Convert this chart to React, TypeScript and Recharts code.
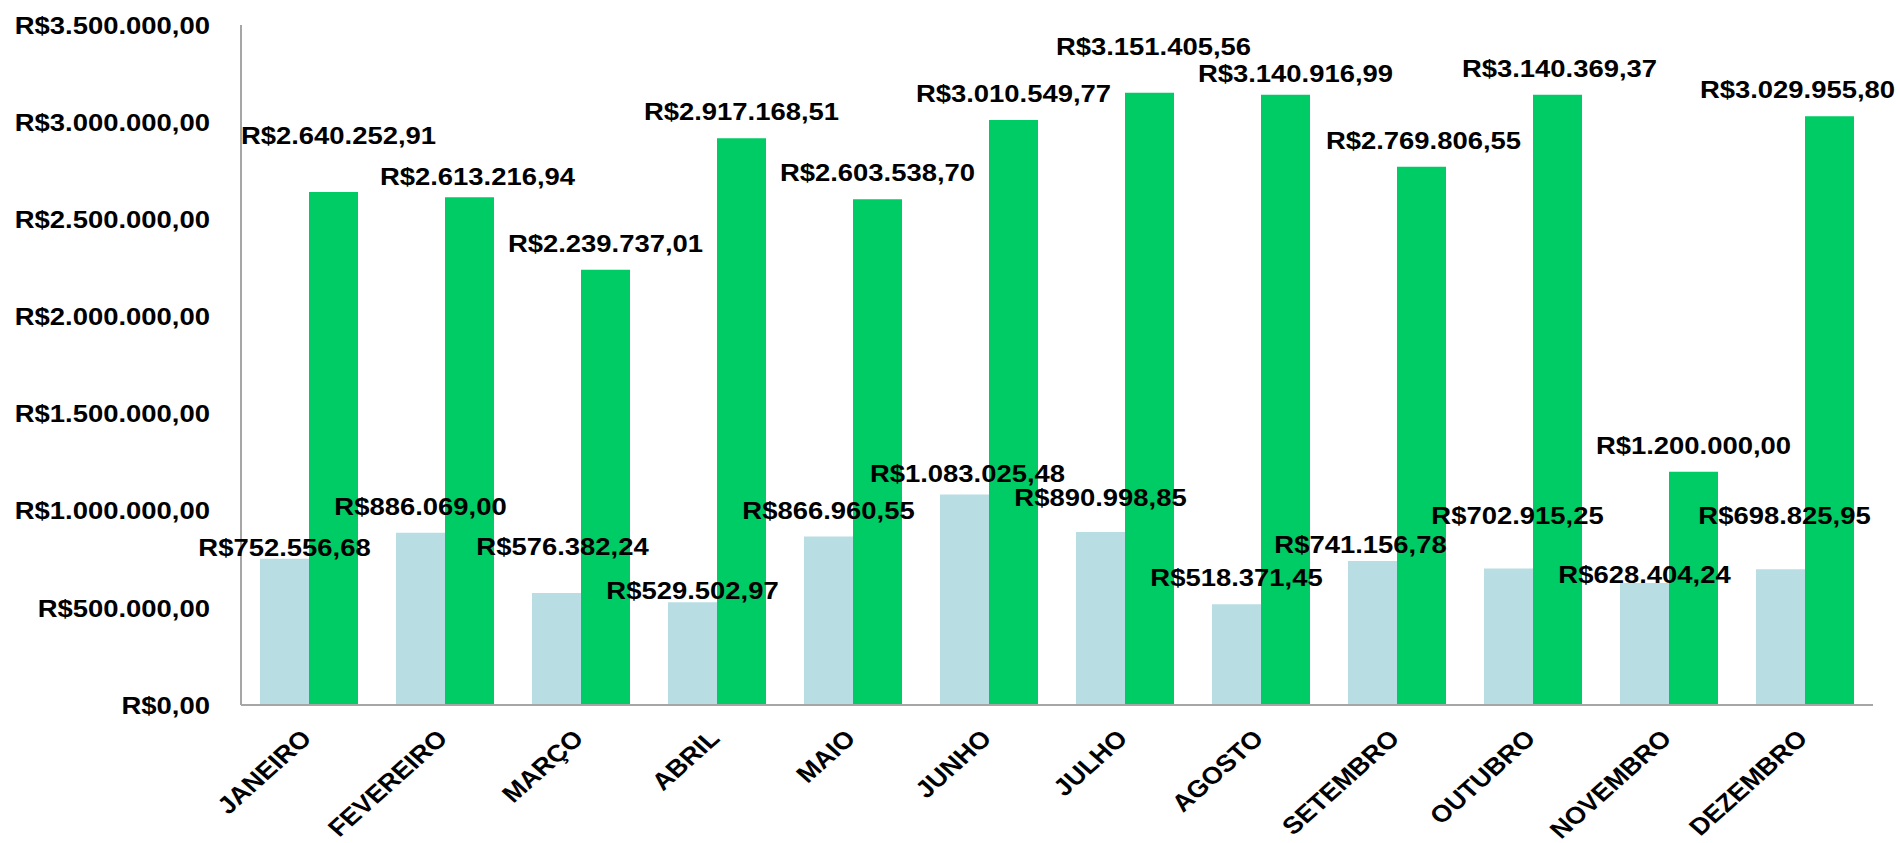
import { Bar, BarChart, LabelList, XAxis, YAxis } from "recharts";

const months = [
  "JANEIRO",
  "FEVEREIRO",
  "MARÇO",
  "ABRIL",
  "MAIO",
  "JUNHO",
  "JULHO",
  "AGOSTO",
  "SETEMBRO",
  "OUTUBRO",
  "NOVEMBRO",
  "DEZEMBRO",
];

const lightValues = [
  752556.68, 886069.0, 576382.24, 529502.97, 866960.55, 1083025.48, 890998.85,
  518371.45, 741156.78, 702915.25, 628404.24, 698825.95,
];

const greenValues = [
  2640252.91, 2613216.94, 2239737.01, 2917168.51, 2603538.7, 3010549.77,
  3151405.56, 3140916.99, 2769806.55, 3140369.37, 1200000.0, 3029955.8,
];

const yTicks = [0, 500000, 1000000, 1500000, 2000000, 2500000, 3000000, 3500000];

// hand-placed label nudges [dx, dy], like the original sheet
const lightNudge = [
  [0, 15], [0, 0], [6, -20], [0, 15], [0, 0], [3, 5],
  [0, -8], [0, 0], [-12, 10], [9, -26], [0, 18], [4, -27],
];
const greenNudge = [
  [5, -30], [8, 6], [0, 0], [0, 0], [0, 0], [0, 0],
  [4, -20], [10, 5], [2, 0], [2, 0], [0, 0], [-32, 0],
];

const FONT = '"Liberation Sans", Arial, sans-serif';
// the source picture is a little wider than tall, so text is stretched
const SX = 1.12;

function brl(v: number) {
  const [int, dec] = v.toFixed(2).split(".");
  return "R$" + int.replace(/\B(?=(\d{3})+(?!\d))/g, ".") + "," + dec;
}

const data = months.map((m, i) => ({
  month: m,
  light: lightValues[i],
  green: greenValues[i],
}));

function WideText({ x, y, anchor, dy, rotate, size, children }: any) {
  const t = `translate(${x},${y}) scale(${SX},1)` + (rotate ? ` rotate(${rotate})` : "");
  return (
    <g transform={t}>
      <text
        x={0}
        y={0}
        dy={dy}
        textAnchor={anchor}
        fontFamily={FONT}
        fontWeight="bold"
        fontSize={size}
        fill="#000"
      >
        {children}
      </text>
    </g>
  );
}

function makeLabel(nudge: number[][]) {
  return (props: any) => {
    const { x, y, width, value, index } = props;
    const [dx, dy] = nudge[index] || [0, 0];
    return (
      <WideText
        x={Number(x) + Number(width) / 2 + dx}
        y={Number(y) - 18 + dy}
        anchor="middle"
        size={24.5}
      >
        {brl(Number(value))}
      </WideText>
    );
  };
}

function MonthTick(props: any) {
  const { x, y, payload } = props;
  return (
    <WideText x={x + 4} y={y + 35} anchor="end" rotate={-45} size={24}>
      {payload.value}
    </WideText>
  );
}

function MoneyTick(props: any) {
  const { x, y, payload } = props;
  return (
    <WideText x={x} y={y} anchor="end" dy="0.355em" size={24.5}>
      {brl(payload.value)}
    </WideText>
  );
}

export default function App() {
  return (
    <div style={{ position: "absolute", left: 0, top: 0, width: 1900, height: 843, background: "#fff" }}>
      <BarChart
        width={1900}
        height={843}
        data={data}
        margin={{ top: 25, right: 27, bottom: 0, left: 0 }}
        barGap={0}
        barSize={49}
      >
        <XAxis
          dataKey="month"
          height={138}
          interval={0}
          tickLine={false}
          tickSize={0}
          tickMargin={0}
          stroke="#a6a6a6"
          strokeWidth={2}
          tick={<MonthTick />}
        />
        <YAxis
          width={241}
          domain={[0, 3500000]}
          ticks={yTicks}
          interval={0}
          tickLine={false}
          tickSize={0}
          tickMargin={31}
          stroke="#a6a6a6"
          strokeWidth={2}
          tick={<MoneyTick />}
        />
        <Bar dataKey="light" fill="#b8dee3" isAnimationActive={false}>
          <LabelList dataKey="light" content={makeLabel(lightNudge)} />
        </Bar>
        <Bar dataKey="green" fill="#00cc66" isAnimationActive={false}>
          <LabelList dataKey="green" content={makeLabel(greenNudge)} />
        </Bar>
      </BarChart>
    </div>
  );
}
